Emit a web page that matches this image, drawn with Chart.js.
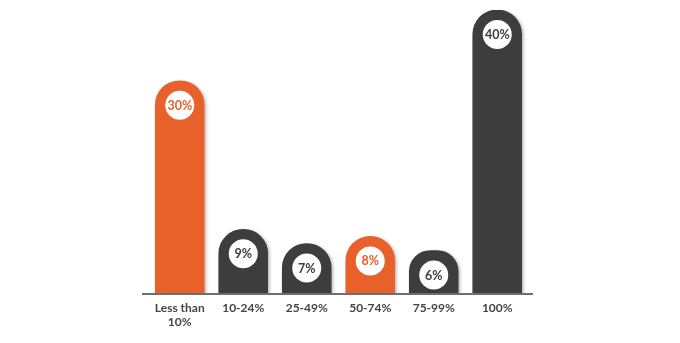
<!DOCTYPE html>
<html>
<head>
<meta charset="utf-8">
<script src="https://cdn.jsdelivr.net/npm/chart.js@4/dist/chart.umd.min.js"></script>
<style>
  html, body { margin: 0; padding: 0; background: #ffffff; }
  #wrap { width: 680px; height: 343px; position: relative; }
</style>
</head>
<body>
<div id="wrap"><canvas id="c"></canvas></div>
<script>
// Share of budget ranges, one bar per bucket
const categories = [["Less than", "10%"], "10-24%", "25-49%", "50-74%", "75-99%", "100%"];
const shares = [30, 9, 7, 8, 6, 40];
const highlighted = [true, false, false, true, false, false];

const ORANGE = "#E8612A";
const DARK = "#3D3D3D";
const barColors = highlighted.map(h => h ? ORANGE : DARK);

// Soft drop shadow under the bars
const barShadow = {
  id: "barShadow",
  beforeDatasetsDraw(chart) {
    const ctx = chart.ctx;
    ctx.save();
    ctx.shadowColor = "rgba(0,0,0,0.22)";
    ctx.shadowBlur = 3;
    ctx.shadowOffsetX = 2;
    ctx.shadowOffsetY = 1;
  },
  afterDatasetsDraw(chart) {
    chart.ctx.restore();
  }
};

// Baseline under the bars, a little wider than the plot
const baseline = {
  id: "baseline",
  afterDatasetsDraw(chart) {
    const { ctx, chartArea } = chart;
    ctx.save();
    ctx.strokeStyle = "#6E6E6E";
    ctx.lineWidth = 2;
    ctx.beginPath();
    ctx.moveTo(chartArea.left - 6, chartArea.bottom + 1);
    ctx.lineTo(chartArea.right + 4, chartArea.bottom + 1);
    ctx.stroke();
    ctx.restore();
  }
};

// White badge in the rounded cap of each bar with its value
const badges = {
  id: "badges",
  afterDatasetsDraw(chart) {
    const ctx = chart.ctx;
    const meta = chart.getDatasetMeta(0);
    ctx.save();
    meta.data.forEach((bar, i) => {
      const cx = bar.x;
      const cy = bar.y + bar.width / 2;
      ctx.beginPath();
      ctx.arc(cx, cy, 14.5, 0, Math.PI * 2);
      ctx.fillStyle = "#ffffff";
      ctx.fill();
      ctx.fillStyle = barColors[i];
      ctx.font = "bold 12.5px Lato";
      ctx.textAlign = "center";
      ctx.textBaseline = "middle";
      ctx.fillText(shares[i] + "%", cx, cy + 0.5);
    });
    ctx.restore();
  }
};

new Chart(document.getElementById("c"), {
  type: "bar",
  data: {
    labels: categories,
    datasets: [{
      data: shares,
      backgroundColor: barColors,
      borderWidth: 0,
      barThickness: 49,
      borderRadius: { topLeft: 40, topRight: 40, bottomLeft: 0, bottomRight: 0 },
      borderSkipped: "start"
    }]
  },
  options: {
    responsive: true,
    maintainAspectRatio: false,
    animation: false,
    layout: { padding: { left: 148, right: 151, top: 10, bottom: 0 } },
    plugins: { legend: { display: false }, tooltip: { enabled: false } },
    scales: {
      x: {
        grid: { display: false },
        border: { display: false },
        ticks: {
          color: "#444444",
          font: { family: "Lato", weight: "bold", size: 12, lineHeight: 1.2 },
          padding: 0,
          maxRotation: 0,
          autoSkip: false
        },
        afterFit(scale) { scale.height = 50; }
      },
      y: {
        display: false,
        min: 0,
        max: 40
      }
    }
  },
  plugins: [barShadow, baseline, badges]
});
</script>
</body>
</html>
